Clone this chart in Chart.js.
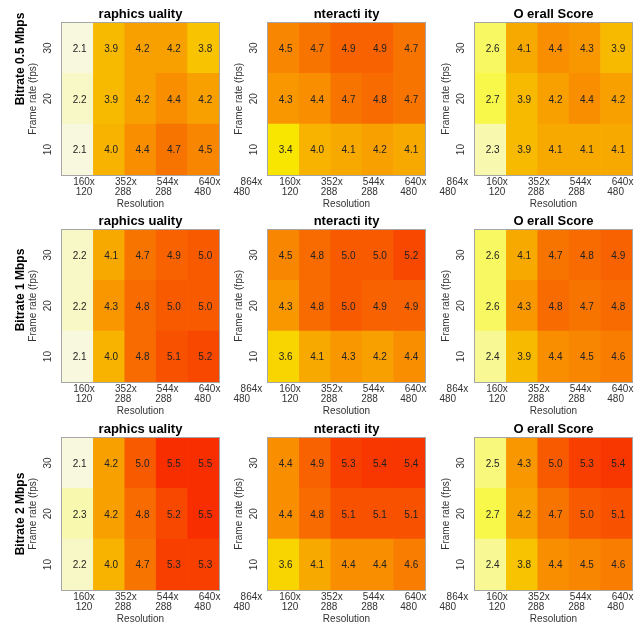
<!DOCTYPE html>
<html>
<head>
<meta charset="utf-8">
<script src="https://cdn.jsdelivr.net/npm/chart.js@4.4.0/dist/chart.umd.min.js"></script>
<style>
  body { margin: 0; background: #fff; width: 641px; height: 623px; overflow: hidden; position: relative; }
  canvas { position: absolute; }
</style>
</head>
<body>
<script>
// ---------- DATA ----------
const resolutions = [["160x", "120"], ["352x", "288"], ["544x", "288"], ["640x", "480"], ["864x", "480"]];
const frameRates = [10, 20, 30];
const bitrates = ["Bitrate 0.5 Mbps", "Bitrate 1 Mbps", "Bitrate 2 Mbps"];
const metrics = ["raphics uality", "nteracti ity", "O erall Score"];

// rows: 10 fps, 20 fps, 30 fps ; columns follow resolutions
const graphics05 = [[2.1, 4.0, 4.4, 4.7, 4.5], [2.2, 3.9, 4.2, 4.4, 4.2], [2.1, 3.9, 4.2, 4.2, 3.8]];
const interact05 = [[3.4, 4.0, 4.1, 4.2, 4.1], [4.3, 4.4, 4.7, 4.8, 4.7], [4.5, 4.7, 4.9, 4.9, 4.7]];
const overall05  = [[2.3, 3.9, 4.1, 4.1, 4.1], [2.7, 3.9, 4.2, 4.4, 4.2], [2.6, 4.1, 4.4, 4.3, 3.9]];

const graphics1 = [[2.1, 4.0, 4.8, 5.1, 5.2], [2.2, 4.3, 4.8, 5.0, 5.0], [2.2, 4.1, 4.7, 4.9, 5.0]];
const interact1 = [[3.6, 4.1, 4.3, 4.2, 4.4], [4.3, 4.8, 5.0, 4.9, 4.9], [4.5, 4.8, 5.0, 5.0, 5.2]];
const overall1  = [[2.4, 3.9, 4.4, 4.5, 4.6], [2.6, 4.3, 4.8, 4.7, 4.8], [2.6, 4.1, 4.7, 4.8, 4.9]];

const graphics2 = [[2.2, 4.0, 4.7, 5.3, 5.3], [2.3, 4.2, 4.8, 5.2, 5.5], [2.1, 4.2, 5.0, 5.5, 5.5]];
const interact2 = [[3.6, 4.1, 4.4, 4.4, 4.6], [4.4, 4.8, 5.1, 5.1, 5.1], [4.4, 4.9, 5.3, 5.4, 5.4]];
const overall2  = [[2.4, 3.8, 4.4, 4.5, 4.6], [2.7, 4.2, 4.7, 5.0, 5.1], [2.5, 4.3, 5.0, 5.3, 5.4]];

const panels = [
  [graphics05, interact05, overall05],
  [graphics1, interact1, overall1],
  [graphics2, interact2, overall2]
];

// ---------- LAYOUT ----------
const FONT = "'Liberation Sans', Arial, Helvetica, sans-serif";
Chart.defaults.font.family = FONT;
const colLeft = [0, 206, 413];
const rowTop = [0, 207, 415];
const rowLabelY = [59, 83, 99];
const CW = 281, CH = 212;

// heat colours (pale yellow -> red)
function heat(v) {
  let h = 60, s = 1;
  if (v >= 3.2) h = 60 - (v - 3.2) * 21.3;
  else if (v < 3.0) s = Math.max(0.08, v - 2.0);
  const V = 248;
  const r = V, g = V * (1 - s * (1 - h / 60)), b = V * (1 - s);
  return `rgb(${Math.round(r)},${Math.round(g)},${Math.round(b)})`;
}

// value text inside each cell
const cellText = {
  id: "cellText",
  afterDatasetsDraw(chart) {
    const ctx = chart.ctx;
    ctx.save();
    ctx.font = "10px " + FONT;
    ctx.fillStyle = "#222";
    ctx.textAlign = "center";
    ctx.textBaseline = "middle";
    chart.data.datasets.forEach((ds, di) => {
      chart.getDatasetMeta(di).data.forEach((el, i) => {
        ctx.fillText(ds.data[i].v.toFixed(1), el.x + 2, (el.y + el.base) / 2 + 1);
      });
    });
    ctx.restore();
  }
};

// grey box round the plot
const frame = {
  id: "frame",
  afterDraw(chart) {
    const {left, top, right, bottom} = chart.chartArea;
    const ctx = chart.ctx;
    ctx.save();
    ctx.strokeStyle = "#a6a6a6";
    ctx.lineWidth = 1;
    ctx.strokeRect(Math.round(left) - 0.5, Math.round(top) - 0.5, Math.round(right - left) + 1, Math.round(bottom - top) + 1);
    ctx.restore();
  }
};

// bitrate label on the left of each row
const rowLabel = {
  id: "rowLabel",
  afterDraw(chart, args, opts) {
    if (!opts.text) return;
    const ctx = chart.ctx;
    ctx.save();
    ctx.translate(21, opts.y);
    ctx.rotate(-Math.PI / 2);
    ctx.font = "bold 12px " + FONT;
    ctx.fillStyle = "#000";
    ctx.textAlign = "center";
    ctx.textBaseline = "middle";
    ctx.fillText(opts.text, 0, 0);
    ctx.restore();
  }
};

function makePanel(r, c) {
  const grid = panels[r][c];
  const canvas = document.createElement("canvas");
  canvas.width = CW; canvas.height = CH;
  canvas.style.left = colLeft[c] + "px";
  canvas.style.top = rowTop[r] + "px";
  document.body.appendChild(canvas);

  const datasets = frameRates.map((fps, ri) => ({
    label: fps + " fps",
    data: grid[ri].map((v, ci) => ({ x: ci, y: [ri, ri + 1], v })),
    backgroundColor: grid[ri].map(heat),
    borderWidth: 0,
    grouped: false,
    barPercentage: 1,
    categoryPercentage: 1
  }));

  new Chart(canvas, {
    type: "bar",
    data: { datasets },
    options: {
      responsive: false,
      animation: false,
      events: [],
      layout: { padding: { right: 62 } },
      plugins: {
        legend: { display: false },
        tooltip: { enabled: false },
        title: {
          display: true, text: metrics[c], fullSize: false, color: "#000",
          font: { size: 13, weight: "bold" }, padding: { top: 7, bottom: 0 }
        },
        rowLabel: { text: c === 0 ? bitrates[r] : "", y: rowLabelY[r] }
      },
      scales: {
        x: {
          type: "linear", min: -0.5, max: 4.5, offset: false,
          grid: { display: false, drawTicks: false },
          border: { display: false },
          afterBuildTicks: s => { s.ticks = resolutions.map((l, i) => ({ value: 0.2 + i * 4 / 3 })); },
          afterFit: s => { s.height = 37; s.paddingLeft = 0; s.paddingRight = 0; },
          ticks: {
            autoSkip: false, maxRotation: 0, minRotation: 0, padding: 2, color: "#333",
            font: { size: 10, lineHeight: 1.0 },
            callback: (v, i) => [resolutions[i][0], resolutions[i][1] + " ".repeat(Math.round(i * 1.7))]
          },
          title: { display: true, text: "Resolution", color: "#333", font: { size: 10 }, padding: { top: 0, bottom: 2 } }
        },
        y: {
          min: 0, max: 3,
          grid: { display: false, drawTicks: false },
          border: { display: false },
          afterBuildTicks: s => { s.ticks = frameRates.map((f, i) => ({ value: i + 0.5 })); },
          afterFit: s => { s.width = 62; s.paddingTop = 0; s.paddingBottom = 0; },
          ticks: {
            minRotation: 90, maxRotation: 90, crossAlign: "center", padding: 8, color: "#333",
            font: { size: 10 },
            callback: (v, i) => String(frameRates[i])
          },
          title: { display: true, text: "Frame rate (fps)", color: "#333", font: { size: 10 }, padding: { top: 27, bottom: 0 } }
        }
      }
    },
    plugins: [cellText, frame, rowLabel]
  });
}

for (let r = 0; r < 3; r++) for (let c = 0; c < 3; c++) makePanel(r, c);
</script>
</body>
</html>
